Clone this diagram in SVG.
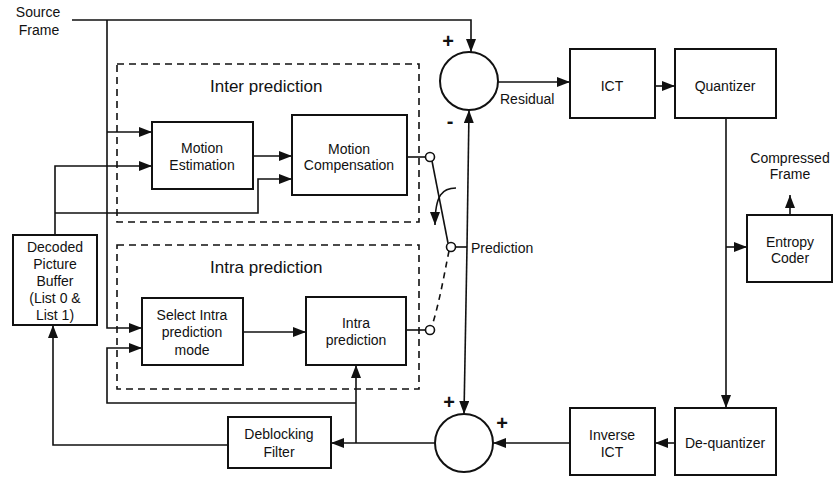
<svg xmlns="http://www.w3.org/2000/svg" width="834" height="477" viewBox="0 0 834 477">
  <style>
    .box { fill: #fff; stroke: #111; stroke-width: 2; }
    .grp { fill: none; stroke: #111; stroke-width: 1.6; stroke-dasharray: 7 5; }
    .wire { fill: none; stroke: #111; stroke-width: 1.6; }
    .arr { marker-end: url(#ah); }
    .dash { stroke-dasharray: 6 5; }
    .sum { fill: #fff; stroke: #111; stroke-width: 2; }
    .tap { fill: #fff; stroke: #111; stroke-width: 1.6; }
    text { font-family: "Liberation Sans", Arial, sans-serif; font-size: 14px; fill: #111; }
    .lbl { text-anchor: middle; }
    .title { font-size: 17px; }
    .sign { font-size: 20px; font-weight: bold; text-anchor: middle; }
  </style>
  <defs>
    <marker id="ah" markerUnits="userSpaceOnUse" markerWidth="14" markerHeight="10" refX="13" refY="5" orient="auto">
      <path d="M0 0 L13 5 L0 10 Z" fill="#111"/>
    </marker>
  </defs>

  <!-- dashed group frames -->
  <g id="inter-group">
    <rect class="grp" x="117" y="64" width="302" height="158"/>
    <text class="title" x="210" y="92">Inter prediction</text>
  </g>
  <g id="intra-group">
    <rect class="grp" x="117" y="245" width="302" height="144"/>
    <text class="title" x="210" y="273">Intra prediction</text>
  </g>

  <!-- connectors -->
  <g id="connectors">
    <path class="wire arr" d="M72 20 H471 V52"/>
    <path class="wire arr" d="M107 20 V328 H142"/>
    <path class="wire arr" d="M107 132 H152"/>
    <path class="wire arr" d="M55 235 V166 H152"/>
    <path class="wire arr" d="M55 213 H258 V179 H292"/>
    <path class="wire arr" d="M253 156 H292"/>
    <path class="wire" d="M407 157 H426"/>
    <path class="wire" d="M432 161 L448 243"/>
    <path class="wire arr" d="M456 188 C443 188 435 194 435 225"/>
    <path class="wire dash" d="M449 251 C444 275 440 300 432 326"/>
    <path class="wire" d="M406 330 H426"/>
    <path class="wire" d="M455 247 H467"/>
    <path class="wire arr" d="M467 247 L469 110"/>
    <path class="wire arr" d="M467 247 L464 414"/>
    <path class="wire arr" d="M498 82 H570"/>
    <path class="wire arr" d="M655 86 H675"/>
    <path class="wire arr" d="M726 118 V408"/>
    <path class="wire arr" d="M726 247 H747"/>
    <path class="wire arr" d="M790 215 V195"/>
    <path class="wire arr" d="M675 443 H655"/>
    <path class="wire arr" d="M570 443 H493"/>
    <path class="wire arr" d="M435 443 H331"/>
    <path class="wire arr" d="M356 443 V365"/>
    <path class="wire arr" d="M356 403 H107 V348 H142"/>
    <path class="wire arr" d="M228 445 H53 V325"/>
    <path class="wire arr" d="M243 332 H306"/>
    <!-- switch contacts -->
    <circle class="tap" cx="430" cy="157" r="4.5"/>
    <circle class="tap" cx="451" cy="247" r="4.5"/>
    <circle class="tap" cx="430" cy="330" r="4.5"/>
  </g>

  <text x="38" y="17" class="lbl">Source</text>
  <text x="39" y="35" class="lbl">Frame</text>
  <text x="471" y="253">Prediction</text>
  <text x="500" y="104">Residual</text>
  <text x="790" y="163" class="lbl">Compressed</text>
  <text x="790" y="179" class="lbl">Frame</text>

  <g id="sub-node">
    <circle class="sum" cx="469" cy="81" r="29"/>
    <text class="sign" x="448" y="48">+</text>
    <text class="sign" x="450" y="128">-</text>
  </g>
  <g id="add-node">
    <circle class="sum" cx="464" cy="443" r="29"/>
    <text class="sign" x="449" y="409">+</text>
    <text class="sign" x="502" y="430">+</text>
  </g>

  <g id="motion-estimation">
    <rect class="box" x="152" y="122" width="101" height="67"/>
    <text class="lbl" x="202" y="153">Motion</text>
    <text class="lbl" x="202" y="170">Estimation</text>
  </g>
  <g id="motion-compensation">
    <rect class="box" x="292" y="115" width="115" height="80"/>
    <text class="lbl" x="349" y="154">Motion</text>
    <text class="lbl" x="349" y="170">Compensation</text>
  </g>
  <g id="dpb">
    <rect class="box" x="13" y="235" width="84" height="90"/>
    <text class="lbl" x="55" y="252">Decoded</text>
    <text class="lbl" x="55" y="269">Picture</text>
    <text class="lbl" x="55" y="286">Buffer</text>
    <text class="lbl" x="55" y="303">(List 0 &amp;</text>
    <text class="lbl" x="55" y="320">List 1)</text>
  </g>
  <g id="select-intra">
    <rect class="box" x="142" y="298" width="101" height="67"/>
    <text class="lbl" x="192" y="320">Select Intra</text>
    <text class="lbl" x="192" y="337">prediction</text>
    <text class="lbl" x="192" y="355">mode</text>
  </g>
  <g id="intra-prediction">
    <rect class="box" x="306" y="297" width="100" height="68"/>
    <text class="lbl" x="356" y="328">Intra</text>
    <text class="lbl" x="356" y="345">prediction</text>
  </g>
  <g id="deblocking">
    <rect class="box" x="228" y="417" width="103" height="51"/>
    <text class="lbl" x="279" y="439">Deblocking</text>
    <text class="lbl" x="279" y="457">Filter</text>
  </g>
  <g id="ict">
    <rect class="box" x="570" y="49" width="85" height="69"/>
    <text class="lbl" x="612" y="91">ICT</text>
  </g>
  <g id="quantizer">
    <rect class="box" x="675" y="49" width="101" height="69"/>
    <text class="lbl" x="725" y="91">Quantizer</text>
  </g>
  <g id="entropy-coder">
    <rect class="box" x="747" y="215" width="85" height="67"/>
    <text class="lbl" x="790" y="247">Entropy</text>
    <text class="lbl" x="790" y="263">Coder</text>
  </g>
  <g id="inverse-ict">
    <rect class="box" x="570" y="408" width="85" height="67"/>
    <text class="lbl" x="612" y="440">Inverse</text>
    <text class="lbl" x="612" y="457">ICT</text>
  </g>
  <g id="dequantizer">
    <rect class="box" x="675" y="408" width="101" height="67"/>
    <text class="lbl" x="725" y="448">De-quantizer</text>
  </g>
</svg>
